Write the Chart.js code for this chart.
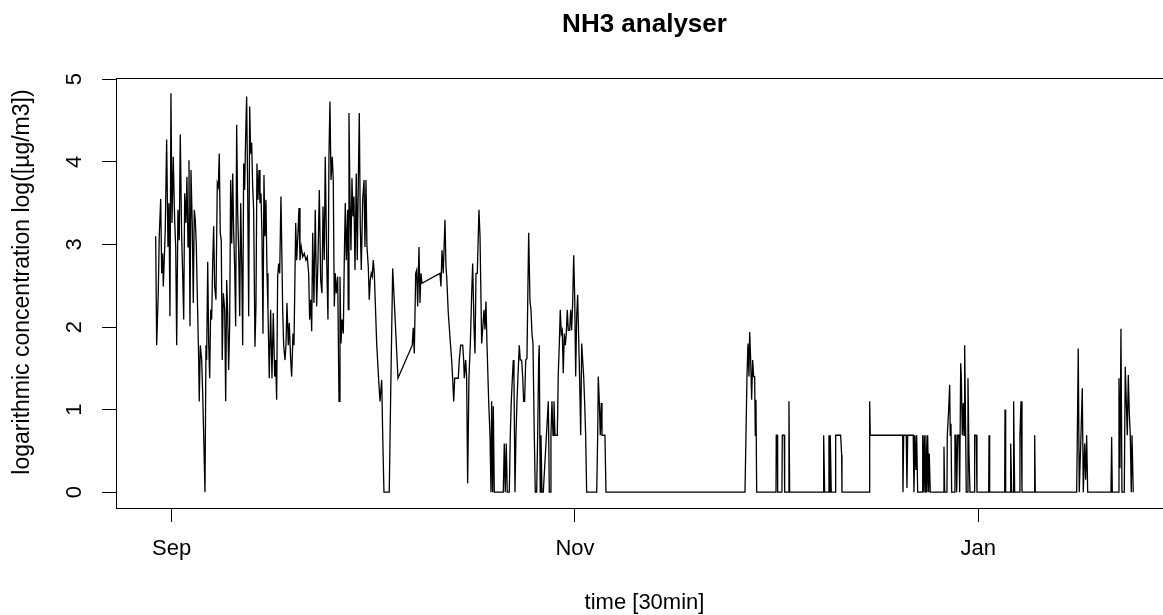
<!DOCTYPE html>
<html>
<head>
<meta charset="utf-8">
<title>NH3 analyser</title>
<script src="https://cdn.jsdelivr.net/npm/chart.js@4.4.0/dist/chart.umd.min.js"></script>
<style>
  html, body { margin: 0; padding: 0; background: #fff; overflow: hidden; }
  #wrap { width: 1180px; height: 615px; }
</style>
</head>
<body>
<div id="wrap"><canvas id="nh3Chart"></canvas></div>
<script>
// NH3 readings as [days since 1 Sep, log concentration]
const sepReadings = [
  [-2.42,3.10],[-2.27,1.78],[-2.03,2.41],[-1.88,3.10],[-1.66,3.55],[-1.51,2.65],[-1.36,2.89],[-1.27,2.49],[-1.12,2.81],[-0.97,3.18],
  [-0.76,4.27],[-0.56,2.97],[-0.41,3.50],[-0.26,2.13],[-0.11,4.83],[0.05,3.26],[0.24,4.06],[0.45,3.30],[0.61,2.97],[0.76,1.78],
  [0.95,3.42],[1.15,3.05],[1.30,4.33],[1.51,3.10],[1.66,2.65],[1.82,2.09],[1.97,3.62],[2.16,3.26],[2.31,3.82],[2.47,2.97],
  [2.62,4.02],[2.77,2.01],[2.92,3.90],[3.12,3.22],[3.27,2.29],[3.42,3.42],[3.57,3.30],[3.72,3.01],[3.87,2.41],[4.08,1.62],
  [4.17,1.10],[4.33,1.78],[4.54,1.60],[4.69,1.20],[4.84,0.69],[5.04,0.00],[5.19,1.78],[5.29,1.60],[5.45,2.79],[5.60,1.80],
  [5.75,1.38],[5.90,2.21],[6.05,2.09],[6.20,2.77],[6.35,3.22],[6.50,2.49],[6.70,2.33],[6.90,3.74],[7.05,3.70],[7.20,4.10],
  [7.35,3.14],[7.50,3.05],[7.65,1.60],[7.81,2.41],[8.02,2.21],[8.17,1.10],[8.32,2.57],[8.47,2.17],[8.62,1.48],[8.77,2.01],
  [8.92,3.78],[9.08,3.01],[9.23,3.86],[9.38,3.14],[9.53,2.73],[9.68,2.01],[9.83,4.45],[9.98,3.42],[10.13,2.93],[10.29,2.13],
  [10.44,3.50],[10.59,2.81],[10.74,1.78],[10.89,3.98],[11.04,3.66],[11.19,4.31],[11.34,4.79],[11.50,3.62],[11.65,2.13],[11.80,4.67],
  [11.95,4.10],[12.10,4.23],[12.25,3.70],[12.40,3.42],[12.60,1.76],[12.75,2.25],[12.90,3.98],[13.05,3.54],[13.21,3.90],[13.36,3.50],
  [13.51,3.62],[13.66,3.10],[13.81,1.92],[13.96,3.84],[14.11,3.10],[14.26,3.54],[14.42,2.65],[14.57,2.21],[14.76,1.38],[14.97,2.21],
  [15.17,1.38],[15.37,2.17],[15.58,1.40],[15.73,1.60],[15.88,1.12],[16.03,2.61],[16.18,2.77],[16.34,2.65],[16.53,3.58],[16.68,2.81],
  [16.79,2.21],[16.94,1.78],[17.14,1.60],[17.29,1.78],[17.44,2.29],[17.64,1.78],[17.79,2.05],[18.00,1.60],[18.15,1.40],[18.35,1.92],
  [18.50,1.78],[18.76,3.26],[18.91,2.81],[19.10,3.14],[19.26,3.44],[19.41,2.81],[19.60,2.97],[19.82,2.85],[20.06,2.89],[20.31,2.81],
  [20.51,2.85],[20.72,2.65],[20.87,2.09],[21.03,2.33],[21.18,1.95],[21.33,3.14],[21.52,2.29],[21.72,3.42],[21.93,2.25],[22.13,2.81],
  [22.33,3.66],[22.54,2.57],[22.73,2.41],[22.89,3.46],[23.08,2.81],[23.23,4.06],[23.45,2.81],[23.64,2.09],[23.79,4.06],[23.94,4.73],
  [24.10,3.78],[24.29,4.06],[24.44,3.78],[24.60,2.25],[24.75,2.65],[24.90,2.41],[25.11,2.61],[25.31,1.10],[25.46,2.61],[25.61,1.80],
  [25.76,2.09],[25.96,1.92],[26.11,2.81],[26.26,3.50],[26.41,2.81],[26.62,3.42],[26.71,2.21],[26.82,4.59],[26.97,3.54],[27.12,2.93],
  [27.27,3.80],[27.42,3.34],[27.57,3.58],[27.73,2.69],[27.92,3.86],[28.07,2.81],[28.23,3.74],[28.38,4.59],[28.53,3.22],[28.68,2.69],
  [28.89,3.54],[29.09,3.78],[29.24,2.97],[29.39,3.78],[29.54,2.97],[29.74,2.73],[29.89,2.33],[30.04,2.57],[30.19,2.65],[30.34,2.61],
  [30.49,2.81],[30.65,2.65]
];

const octReadings = [
  [31.01,1.80],[31.31,1.36],[31.51,1.10],[31.77,1.36],[31.92,0.69],[32.11,0.00],[32.91,0.00],[33.13,1.20],[33.43,2.71],[34.23,1.38],
  [36.39,1.78],[36.54,1.99],[36.70,1.68],[36.91,2.65],[37.06,2.69],[37.21,2.25],[37.41,2.97],[37.56,2.29],[37.71,2.65],[37.86,2.53],
  [40.58,2.65],[40.73,2.49],[40.89,2.93],[41.08,2.65],[41.34,3.30],[41.49,2.73],[41.60,2.61],[41.84,2.17],[42.20,1.76],[42.35,1.60],
  [42.50,1.38],[42.66,1.10],[42.81,1.38],[43.35,1.38],[43.50,1.60],[43.71,1.78],[44.02,1.78],[44.17,1.60],[44.26,1.38],[44.47,1.60],
  [44.62,1.38],[44.77,0.11],[44.97,1.40],[45.17,1.78],[45.38,2.41],[45.53,2.77],[45.73,2.01],[45.88,1.68],[46.03,2.65],[46.23,2.65],
  [46.48,3.42],[46.64,3.10],[46.89,1.80],[47.04,1.97],[47.24,2.21],[47.39,1.97],[47.54,2.31],[47.69,1.80],[47.95,1.10],[48.15,0.69],
  [48.30,0.00],[48.40,1.10],[48.55,0.00],[48.65,1.04],[48.80,0.00],[50.16,0.00],[50.31,0.59],[50.46,0.00],[50.61,0.59],[50.76,0.00],
  [51.07,0.00],[51.22,0.69],[51.37,1.10],[51.52,1.36],[51.67,1.60],[51.78,1.36],[51.93,0.00],[52.08,0.69],[52.23,1.10],[52.38,1.40],
  [52.58,1.78],[52.73,1.60],[52.94,1.60],[53.09,1.40],[53.24,1.10],[53.39,1.10],[53.55,1.60],[53.74,1.62],[54.00,3.14],[54.20,2.31],
  [54.35,2.21],[54.50,1.92],[54.65,1.80],[54.85,0.69],[55.00,0.00],[55.21,0.00],[55.36,0.69],[55.51,1.60],[55.60,1.78],[55.75,0.00],
  [55.86,0.69],[56.01,0.00],[56.21,0.00],[56.97,1.10],[57.12,0.00],[57.27,0.00],[57.37,0.69],[57.52,1.10],[57.68,0.69],[57.83,1.10],
  [57.98,0.69],[58.33,0.69],[58.48,1.44],[58.63,1.78],[58.78,2.21],[58.93,1.92],[59.08,1.96],[59.23,1.44],[59.39,1.92],[59.54,1.78],
  [59.69,1.92],[59.84,2.21],[59.99,1.96],[60.20,1.96],[60.35,2.21],[60.50,1.96],[60.66,2.31],[60.81,2.87],[60.96,2.37]
];

const novReadings = [
  [61.11,1.40],[61.26,2.13],[61.41,2.39],[61.56,1.88],[61.71,1.36],[61.87,0.69],[62.02,1.80],[62.17,1.60],[62.32,1.40],[62.47,1.08],
  [62.62,0.69],[62.77,0.00],[64.29,0.00],[64.44,0.69],[64.53,1.40],[64.68,1.10],[64.83,0.69],[64.98,1.08],[65.09,0.69],[65.54,0.69],
  [65.69,0.00],[86.72,0.00],[86.87,0.69],[87.02,1.40],[87.17,1.80],[87.32,1.40],[87.43,1.94],[87.58,1.60],[87.73,1.12],[87.88,1.60],
  [88.03,1.40],[88.18,1.40],[88.28,0.69],[88.38,1.12],[88.49,0.00],[91.41,0.00],[91.45,0.69],[91.60,0.69],[91.66,0.00],[92.31,0.00],
  [92.36,0.69],[92.66,0.69],[92.72,0.00],[93.33,0.00],[93.37,1.10],[93.48,0.00]
];

const decReadings = [
  [98.56,0.00],[98.62,0.69],[98.77,0.00],[99.32,0.00],[99.42,0.69],[99.58,0.00],[99.62,0.69],[99.77,0.00],[100.38,0.00],[100.44,0.69],
  [101.19,0.69],[101.34,0.45],[101.39,0.00],[105.52,0.00],[105.58,1.10],[105.67,0.69],[110.57,0.69],[110.62,0.00],[110.72,0.69],[111.11,0.69],
  [111.22,0.05],[111.33,0.69],[112.17,0.69],[112.28,0.00],[112.43,0.69],[112.58,0.27],[112.69,0.69],[112.84,0.00],[113.54,0.00],[113.60,0.69],
  [113.75,0.00],[113.84,0.69],[113.99,0.00],[114.09,0.69],[114.25,0.00],[114.35,0.69],[114.50,0.00],[114.59,0.47],[114.75,0.00],[116.77,0.00],
  [116.82,0.55],[116.92,0.00],[117.27,0.00],[117.32,0.69],[117.53,1.00],[117.68,1.30],[117.77,0.69],[117.88,0.83],[117.98,0.00],[118.38,0.00],
  [118.48,0.69],[118.63,0.69],[118.74,0.00],[118.89,0.69],[119.09,0.69],[119.19,0.00],[119.35,1.56],[119.44,1.40],[119.59,0.69],[119.74,1.08],
  [119.85,0.69],[119.95,1.78],[120.10,0.69],[120.19,0.00],[120.34,0.00],[120.45,1.38],[120.60,0.47],[120.75,0.00],[121.40,0.00],[121.46,0.69],
  [121.70,0.69],[121.81,0.00]
];

const janReadings = [
  [123.58,0.00],[123.63,0.69],[123.73,0.00],[126.00,0.00],[126.05,1.00],[126.15,0.00],[126.85,0.00],[126.91,0.59],[127.06,0.00],[127.26,0.00],
  [127.30,0.69],[127.41,1.10],[127.51,0.00],[128.21,0.00],[128.31,0.69],[128.47,1.10],[128.62,0.00],[130.48,0.00],[130.54,0.69],[130.63,0.00],
  [136.89,0.00],[136.98,0.61],[137.13,1.74],[137.28,0.00],[137.54,0.69],[137.74,1.26],[137.89,0.00],[138.10,0.59],[138.25,0.15],[138.40,0.69],
  [138.56,0.00],[142.08,0.00],[142.18,0.67],[142.28,0.00],[143.18,0.00],[143.29,1.38],[143.44,0.29],[143.59,1.98],[143.74,0.00],[144.09,0.00],
  [144.24,1.52],[144.39,1.12],[144.55,0.69],[144.70,1.42],[144.85,0.96],[145.00,0.69],[145.15,0.00],[145.26,0.69],[145.41,0.69],[145.45,0.00]
];

// axis ticks: month starts (days since 1 Sep) and log levels
const monthTicks = [0, 61, 122];
const monthLabels = ['Sep', 'Nov', 'Jan'];
const logTicks = [0, 1, 2, 3, 4, 5];

const FONT = '"Liberation Sans", Arial, Helvetica, sans-serif';

const series = [].concat(sepReadings, octReadings, novReadings, decReadings, janReadings)
  .map(p => ({ x: p[0], y: p[1] }));

// box around the plot region plus the three titles
const frame = {
  id: 'frame',
  afterDraw(chart) {
    const { ctx, chartArea: a } = chart;
    const midX = (a.left + a.right) / 2;
    ctx.save();
    ctx.strokeStyle = '#000';
    ctx.lineWidth = 1;
    ctx.strokeRect(a.left - 0.5, a.top + 0.5, a.right - a.left, a.bottom - a.top);

    ctx.fillStyle = '#000';
    ctx.textAlign = 'center';
    ctx.textBaseline = 'alphabetic';
    ctx.font = 'bold 26px ' + FONT;
    ctx.fillText('NH3 analyser', midX, 32);

    ctx.font = '22px ' + FONT;
    ctx.fillText('time [30min]', midX, 609);

    ctx.font = '23px ' + FONT;
    ctx.translate(29, (a.top + a.bottom) / 2 - 11);
    ctx.rotate(-Math.PI / 2);
    ctx.fillText('logarithmic concentration log([µg/m3])', 0, 0);
    ctx.restore();
  }
};

new Chart(document.getElementById('nh3Chart'), {
  type: 'line',
  data: {
    datasets: [{
      data: series,
      borderColor: '#000',
      borderWidth: 1.3,
      pointRadius: 0,
      tension: 0,
      fill: false
    }]
  },
  options: {
    responsive: true,
    maintainAspectRatio: false,
    animation: false,
    layout: { padding: { top: 78, right: 8, bottom: 0, left: 0 } },
    plugins: {
      legend: { display: false },
      tooltip: { enabled: false },
      title: { display: false }
    },
    scales: {
      x: {
        type: 'linear',
        min: -8.27,
        max: 151.31,
        afterFit(s) { s.height = 107; },
        afterBuildTicks(s) { s.ticks = monthTicks.map(v => ({ value: v })); },
        border: { display: false },
        grid: { drawOnChartArea: false, tickLength: 14, tickColor: '#000', tickWidth: 1 },
        ticks: {
          autoSkip: false,
          maxRotation: 0,
          padding: 14,
          color: '#000',
          font: { family: FONT, size: 22 },
          callback: (v, i) => monthLabels[i]
        }
      },
      y: {
        type: 'linear',
        min: -0.191,
        max: 5.015,
        afterFit(s) { s.width = 117; },
        afterBuildTicks(s) { s.ticks = logTicks.map(v => ({ value: v })); },
        border: { display: false },
        grid: { drawOnChartArea: false, tickLength: 15, tickColor: '#000', tickWidth: 1 },
        ticks: {
          minRotation: 90,
          maxRotation: 90,
          crossAlign: 'center',
          padding: 21,
          color: '#000',
          font: { family: FONT, size: 22 },
          callback: v => String(v)
        }
      }
    }
  },
  plugins: [frame]
});
</script>
</body>
</html>
